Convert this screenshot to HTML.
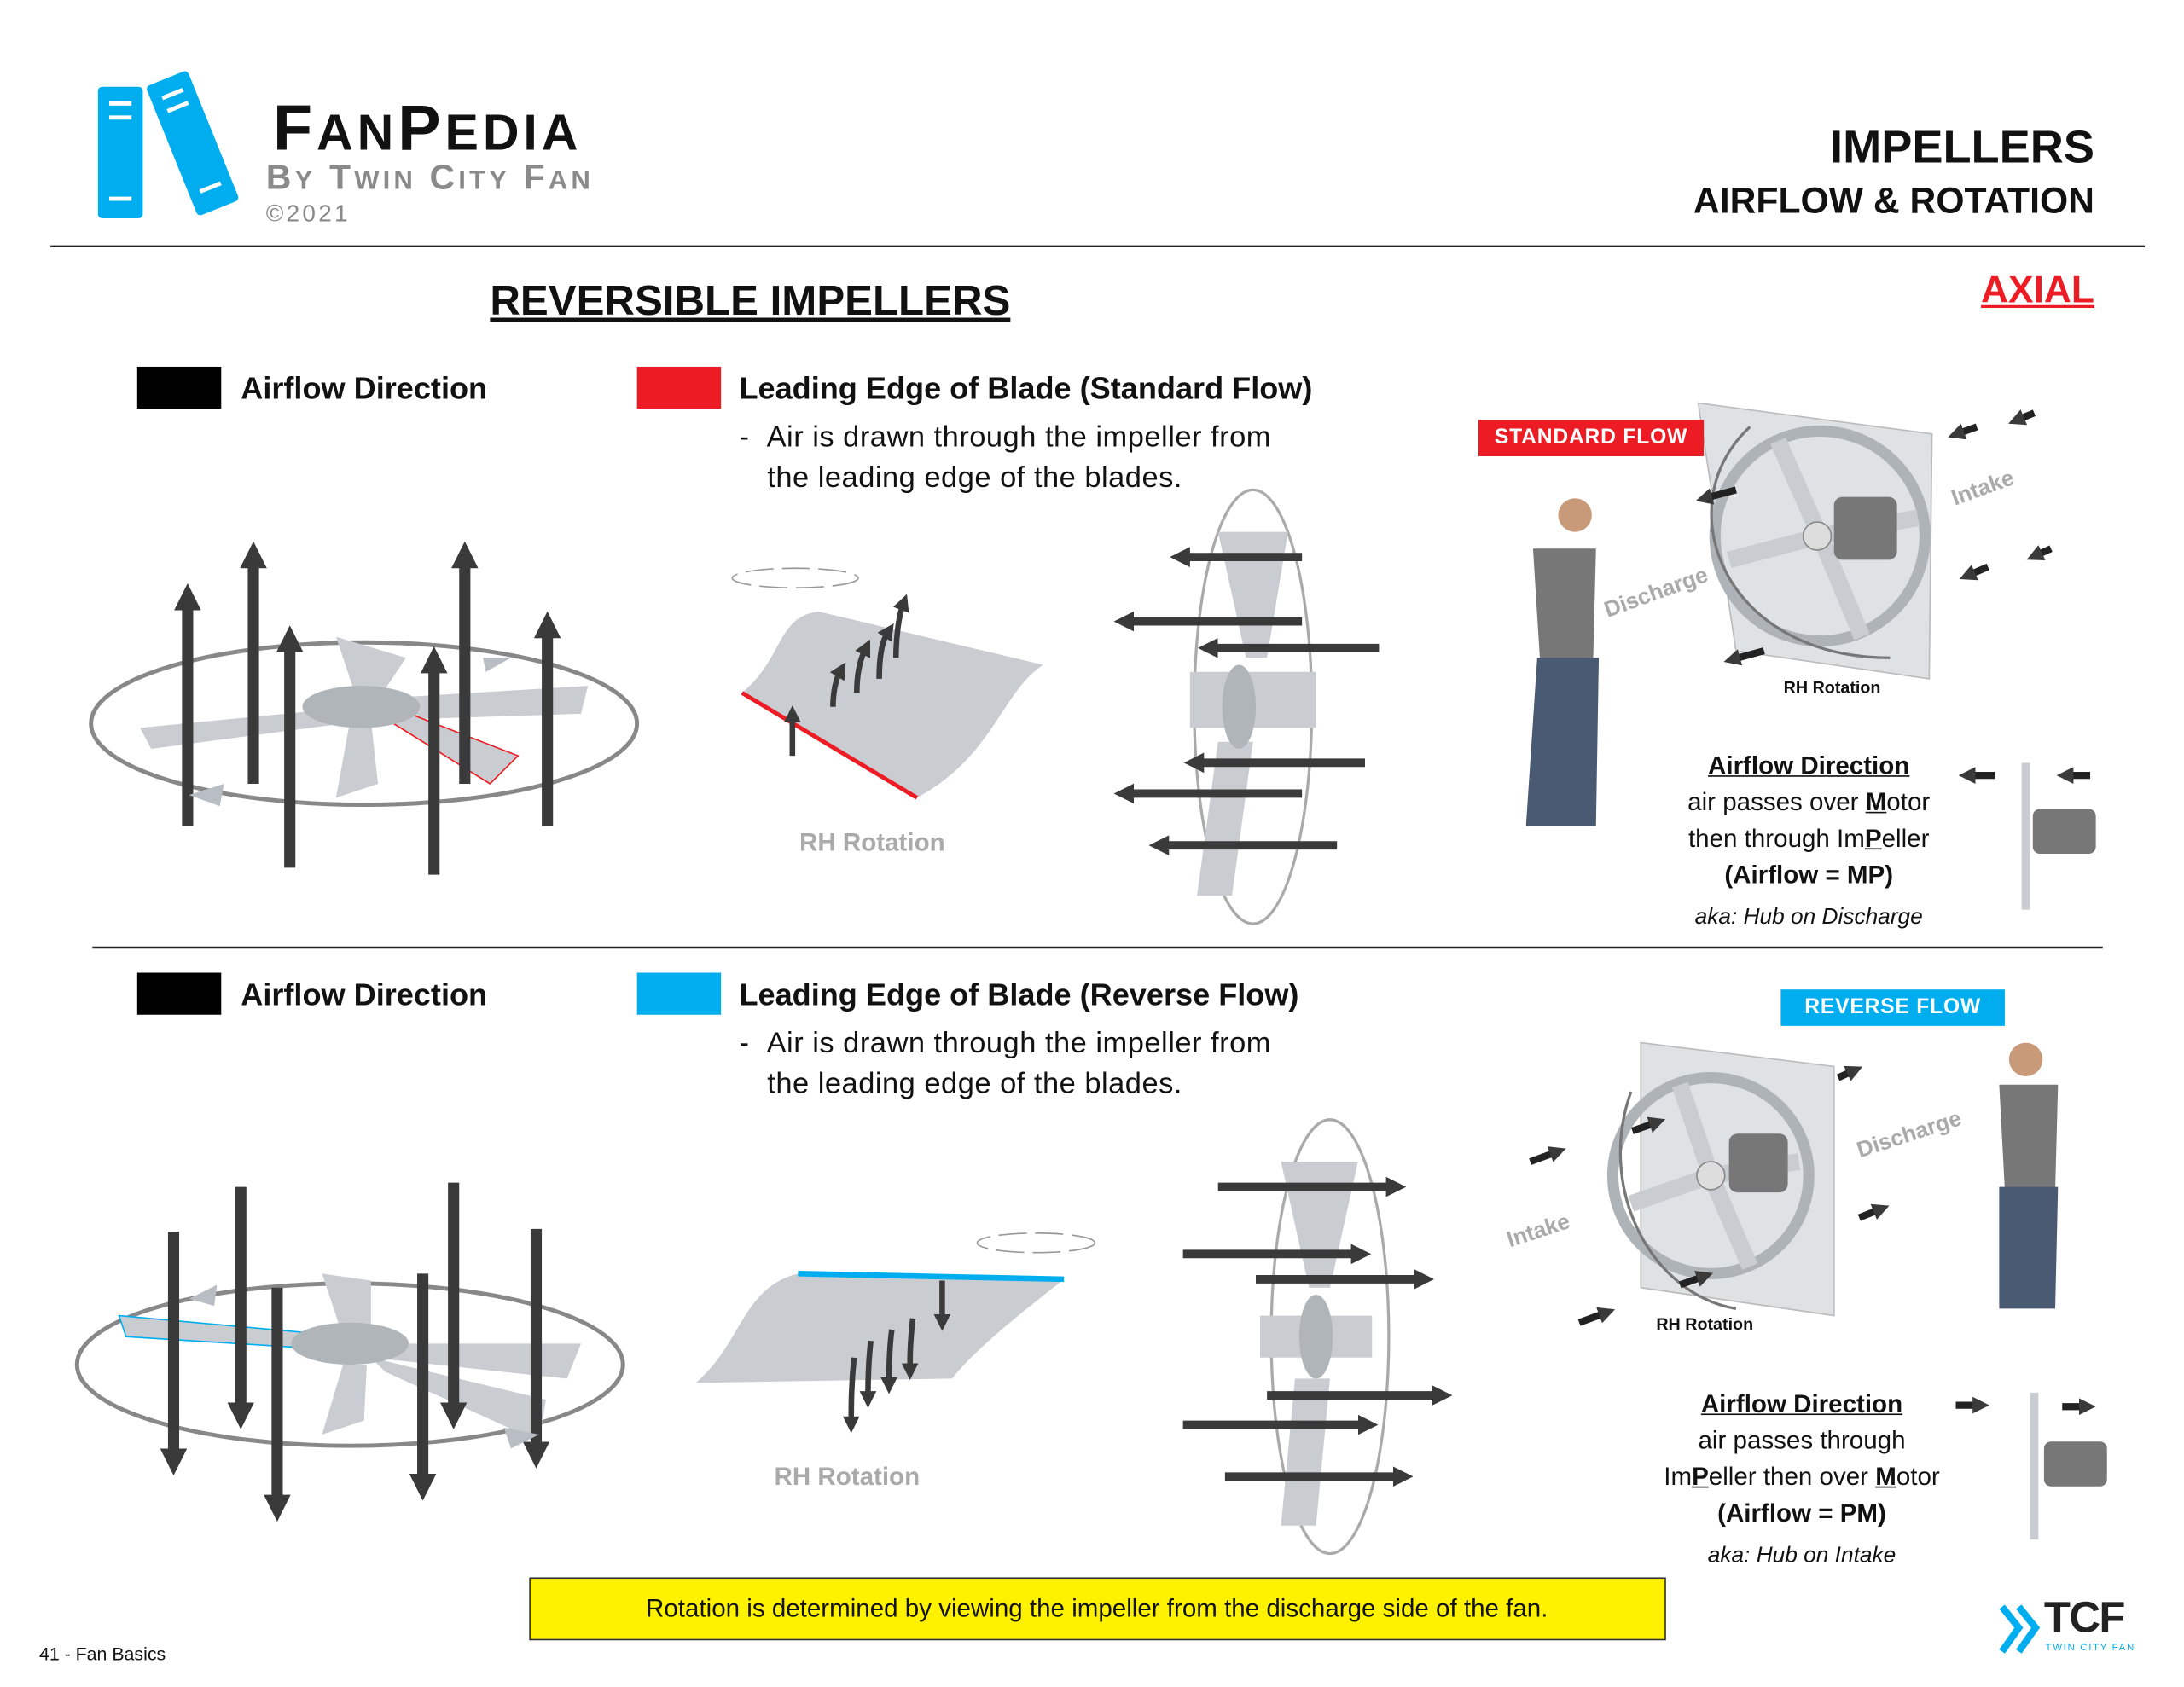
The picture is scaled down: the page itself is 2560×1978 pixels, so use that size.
<!DOCTYPE html>
<html><head><meta charset="utf-8">
<style>
html,body{margin:0;padding:0;background:#fff;}
body{width:2560px;height:1978px;overflow:hidden;position:relative;}
#w{position:absolute;left:0;top:0;width:1560px;height:1205px;transform:scale(1.641026);transform-origin:0 0;font-family:"Liberation Sans",sans-serif;color:#111;}
.t{position:absolute;white-space:nowrap;}
.b{font-weight:bold;}
</style></head><body><div id="w">
<svg width="1560" height="1205" style="position:absolute;left:0;top:0">
<defs>
<marker id="ah" markerWidth="2.4" markerHeight="2.4" refX="1" refY="1.2" orient="auto"><path d="M0,0L2.4,1.2L0,2.4z" fill="#3a3a3a"/></marker>
<marker id="as" markerWidth="3" markerHeight="3" refX="1" refY="1.5" orient="auto"><path d="M0,0L3,1.5L0,3z" fill="#3a3a3a"/></marker>
</defs>
<g transform="translate(70,62)"><rect x="0" y="0" width="32" height="94" rx="3" fill="#00aeef"/>
<line x1="8" y1="12" x2="24" y2="12" stroke="#fff" stroke-width="3"/><line x1="8" y1="22" x2="24" y2="22" stroke="#fff" stroke-width="3"/><line x1="8" y1="80" x2="24" y2="80" stroke="#fff" stroke-width="3"/></g>
<g transform="translate(104,62) rotate(-22)"><rect x="0" y="0" width="32" height="100" rx="3" fill="#00aeef"/>
<line x1="8" y1="12" x2="24" y2="12" stroke="#fff" stroke-width="3"/><line x1="8" y1="22" x2="24" y2="22" stroke="#fff" stroke-width="3"/><line x1="8" y1="84" x2="24" y2="84" stroke="#fff" stroke-width="3"/></g>
<line x1="36" y1="176" x2="1532" y2="176" stroke="#222" stroke-width="1.5"/>
<line x1="66" y1="677" x2="1502" y2="677" stroke="#222" stroke-width="1.5"/>
<rect x="98" y="262" width="60" height="30" fill="#000"/>
<rect x="455" y="262" width="60" height="30" fill="#ed1c24"/>
<rect x="98" y="695" width="60" height="30" fill="#000"/>
<rect x="455" y="695" width="60" height="30" fill="#00aeef"/>
<rect x="378.5" y="1127.5" width="811" height="44" fill="#fff200" stroke="#333"/>
<!-- top-left impeller -->
<ellipse cx="260" cy="517" rx="195" ry="58" fill="none" stroke="#888" stroke-width="3"/>
<path d="M255,500 L420,490 L415,510 L255,515Z" fill="#c9cdd1"/><path d="M255,505 L100,520 L108,535 L260,515Z" fill="#c9cdd1"/>
<path d="M255,500 L240,455 L290,470 L270,500Z" fill="#c9cdd1"/><path d="M250,515 L240,570 L270,560 L265,515Z" fill="#c9cdd1"/>
<path d="M270,510 L350,560 L370,540 L280,505Z" fill="#c9cdd1" stroke="#ed1c24" stroke-width="1"/>
<ellipse cx="258" cy="505" rx="42" ry="15" fill="#b0b5ba"/>
<g stroke="#3a3a3a" stroke-width="8" marker-end="url(#ah)">
<line x1="134" y1="590" x2="134" y2="428"/><line x1="181" y1="560" x2="181" y2="398"/><line x1="207" y1="620" x2="207" y2="458"/><line x1="332" y1="560" x2="332" y2="398"/><line x1="310" y1="625" x2="310" y2="473"/><line x1="391" y1="590" x2="391" y2="448"/></g>
<path d="M345,470 l20,0 l-18,10z" fill="#b8bec4"/><path d="M160,560 l-25,8 l22,8z" fill="#b8bec4"/>
<!-- blade top -->
<path d="M530,495 C560,470 555,440 585,437 L745,475 C715,495 710,540 655,570 Z" fill="#c9cdd1"/>
<path d="M530,495 L655,570" stroke="#ed1c24" stroke-width="3"/>
<ellipse cx="568" cy="413" rx="45" ry="7" fill="none" stroke="#999" stroke-dasharray="20 6"/>
<g stroke="#3a3a3a" stroke-width="4" fill="none" marker-end="url(#as)"><path d="M566,540 L566,512"/><path d="M595,505 C595,495 597,485 600,480"/><path d="M612,495 C612,480 615,470 618,464"/><path d="M628,485 C628,470 630,458 634,452"/><path d="M640,470 C640,455 642,440 645,432"/></g>
<!-- side view top -->
<ellipse cx="895" cy="505" rx="42" ry="155" fill="none" stroke="#aaa" stroke-width="2"/>
<path d="M870,380 L890,470 L905,470 L920,380Z" fill="#c9cdd1"/><path d="M870,530 L855,640 L880,640 L895,530Z" fill="#c9cdd1"/>
<path d="M850,480 L940,480 L940,520 L850,520Z" fill="#c9cdd1"/><ellipse cx="885" cy="505" rx="12" ry="30" fill="#b0b5ba"/>
<g stroke="#3a3a3a" stroke-width="6" marker-end="url(#ah)"><line x1="930" y1="398" x2="844" y2="398"/><line x1="930" y1="444" x2="804" y2="444"/><line x1="985" y1="463" x2="864" y2="463"/><line x1="975" y1="545" x2="854" y2="545"/><line x1="930" y1="567" x2="804" y2="567"/><line x1="955" y1="604" x2="829" y2="604"/></g>
<!-- standard flow fan -->
<path d="M1213,288 L1380,310 L1378,485 L1240,465 Z" fill="#dfe2e5" stroke="#bbb"/>
<circle cx="1300" cy="383" r="75" fill="none" stroke="#aeb3b8" stroke-width="8"/>
<g stroke="#c9cdd1" stroke-width="12"><line x1="1300" y1="383" x2="1270" y2="315"/><line x1="1300" y1="383" x2="1370" y2="370"/><line x1="1300" y1="383" x2="1330" y2="455"/><line x1="1300" y1="383" x2="1235" y2="400"/></g>
<rect x="1310" y="355" width="45" height="45" rx="6" fill="#777"/><circle cx="1298" cy="383" r="10" fill="#ddd" stroke="#888"/>
<path d="M1250,305 C1190,360 1230,470 1350,470" fill="none" stroke="#777" stroke-width="2"/>
<g stroke="#222" stroke-width="5" marker-end="url(#ah)"><line x1="1412" y1="305" x2="1398" y2="310"/><line x1="1453" y1="295" x2="1441" y2="300"/><line x1="1420" y1="405" x2="1406" y2="411"/><line x1="1465" y1="392" x2="1454" y2="397"/><line x1="1240" y1="350" x2="1218" y2="356"/><line x1="1260" y1="465" x2="1238" y2="471"/><line x1="1493" y1="554" x2="1476" y2="554"/><line x1="1425" y1="554" x2="1406" y2="554"/></g>
<circle cx="1125" cy="368" r="12" fill="#c89a7a"/><path d="M1095,392 L1140,392 L1138,470 L1100,472Z" fill="#777"/><path d="M1098,470 L1142,470 L1140,590 L1090,590Z" fill="#4a5a72"/>
<line x1="1447" y1="545" x2="1447" y2="650" stroke="#c9cdd1" stroke-width="6"/><rect x="1452" y="578" width="45" height="32" rx="5" fill="#777"/>
<!-- bottom-left impeller -->
<ellipse cx="250" cy="975" rx="195" ry="58" fill="none" stroke="#888" stroke-width="3"/>
<path d="M250,955 L85,940 L90,955 L250,965Z" fill="#c9cdd1" stroke="#00aeef" stroke-width="1"/><path d="M265,960 L415,960 L405,985 L265,970Z" fill="#c9cdd1"/>
<path d="M245,955 L230,910 L265,915 L265,950Z" fill="#c9cdd1"/><path d="M245,975 L230,1025 L260,1015 L262,975Z" fill="#c9cdd1"/>
<path d="M265,970 L390,1000 L385,1030 L275,980Z" fill="#c9cdd1"/>
<ellipse cx="250" cy="960" rx="42" ry="15" fill="#b0b5ba"/>
<g stroke="#3a3a3a" stroke-width="8" marker-end="url(#ah)"><line x1="124" y1="880" x2="124" y2="1043"/><line x1="172" y1="848" x2="172" y2="1010"/><line x1="198" y1="920" x2="198" y2="1076"/><line x1="324" y1="845" x2="324" y2="1010"/><line x1="302" y1="910" x2="302" y2="1061"/><line x1="383" y1="878" x2="383" y2="1038"/></g>
<path d="M135,928 l20,-10 l-2,15z" fill="#b8bec4"/><path d="M360,1020 l25,5 l-20,10z" fill="#b8bec4"/>
<!-- blade bottom -->
<path d="M497,988 C530,960 530,920 570,910 L760,914 C740,930 700,960 680,985 Z" fill="#c9cdd1"/>
<path d="M570,910 L760,914" stroke="#00aeef" stroke-width="4"/>
<ellipse cx="740" cy="888" rx="42" ry="7" fill="none" stroke="#999" stroke-dasharray="20 6"/>
<g stroke="#3a3a3a" stroke-width="4" fill="none" marker-end="url(#as)"><path d="M673,915 L673,943"/><path d="M652,942 C650,960 650,970 650,978"/><path d="M637,950 C635,965 635,980 635,988"/><path d="M622,958 C620,975 620,990 620,998"/><path d="M610,970 C608,990 608,1005 608,1016"/></g>
<!-- side bottom -->
<ellipse cx="950" cy="955" rx="42" ry="155" fill="none" stroke="#aaa" stroke-width="2"/>
<path d="M915,830 L935,920 L950,920 L970,830Z" fill="#c9cdd1"/><path d="M925,985 L915,1090 L940,1090 L950,985Z" fill="#c9cdd1"/>
<path d="M900,940 L980,940 L980,970 L900,970Z" fill="#c9cdd1"/><ellipse cx="940" cy="955" rx="12" ry="30" fill="#b0b5ba"/>
<g stroke="#3a3a3a" stroke-width="6" marker-end="url(#ah)"><line x1="870" y1="848" x2="996" y2="848"/><line x1="845" y1="896" x2="971" y2="896"/><line x1="897" y1="914" x2="1016" y2="914"/><line x1="905" y1="997" x2="1029" y2="997"/><line x1="845" y1="1018" x2="976" y2="1018"/><line x1="875" y1="1055" x2="1001" y2="1055"/></g>
<!-- reverse fan -->
<path d="M1172,745 L1310,762 L1310,940 L1172,920 Z" fill="#dfe2e5" stroke="#bbb"/>
<circle cx="1222" cy="840" r="70" fill="none" stroke="#aeb3b8" stroke-width="8"/>
<g stroke="#c9cdd1" stroke-width="12"><line x1="1222" y1="840" x2="1200" y2="775"/><line x1="1222" y1="840" x2="1285" y2="830"/><line x1="1222" y1="840" x2="1250" y2="905"/><line x1="1222" y1="840" x2="1165" y2="860"/></g>
<rect x="1235" y="810" width="42" height="42" rx="6" fill="#777"/><circle cx="1222" cy="840" r="10" fill="#ddd" stroke="#888"/>
<path d="M1165,780 C1140,850 1180,925 1240,935" fill="none" stroke="#777" stroke-width="2"/>
<g stroke="#222" stroke-width="5" marker-end="url(#ah)"><line x1="1093" y1="830" x2="1112" y2="823"/><line x1="1128" y1="945" x2="1147" y2="938"/><line x1="1166" y1="808" x2="1183" y2="802"/><line x1="1200" y1="918" x2="1217" y2="912"/><line x1="1313" y1="770" x2="1324" y2="765"/><line x1="1328" y1="870" x2="1343" y2="864"/><line x1="1397" y1="1004" x2="1414" y2="1004"/><line x1="1473" y1="1005" x2="1490" y2="1005"/></g>
<circle cx="1447" cy="757" r="12" fill="#c89a7a"/><path d="M1428,775 L1470,775 L1468,850 L1432,850Z" fill="#777"/><path d="M1428,848 L1470,848 L1468,935 L1428,935Z" fill="#4a5a72"/>
<line x1="1453" y1="995" x2="1453" y2="1100" stroke="#c9cdd1" stroke-width="6"/><rect x="1460" y="1030" width="45" height="32" rx="5" fill="#777"/>
<path d="M1430,1148 L1442,1163 L1430,1180 M1442,1148 L1454,1163 L1442,1180" fill="none" stroke="#00aeef" stroke-width="5"/>
</svg>
<div class="t b" style="left:195px;top:64px;font-size:46px;letter-spacing:3px;">F<span style="font-size:36px">AN</span>P<span style="font-size:36px">EDIA</span></div>
<div class="t b" style="left:190px;top:113px;font-size:25px;color:#8a8a8a;letter-spacing:2.5px;">B<span style="font-size:19px">Y</span> T<span style="font-size:19px">WIN</span> C<span style="font-size:19px">ITY</span> F<span style="font-size:19px">AN</span></div>
<div class="t" style="left:190px;top:143px;font-size:17px;color:#8a8a8a;letter-spacing:2px;">©2021</div>
<div class="t b" style="right:64px;top:86px;font-size:33px;">IMPELLERS</div>
<div class="t b" style="right:64px;top:128px;font-size:26px;">AIRFLOW &amp; ROTATION</div>
<div class="t b" style="left:350px;top:199px;font-size:30px;text-decoration:underline;">REVERSIBLE IMPELLERS</div>
<div class="t b" style="right:64px;top:192px;font-size:27px;color:#ed1c24;text-decoration:underline;">AXIAL</div>
<div class="t b" style="left:172px;top:265px;font-size:22px;">Airflow Direction</div>
<div class="t b" style="left:528px;top:265px;font-size:22px;">Leading Edge of Blade (Standard Flow)</div>
<div class="t" style="left:528px;top:301px;font-size:21px;letter-spacing:0.3px;">-&nbsp;&nbsp;Air is drawn through the impeller from</div>
<div class="t" style="left:548px;top:330px;font-size:21px;letter-spacing:0.3px;">the leading edge of the blades.</div>
<div class="t b" style="left:172px;top:698px;font-size:22px;">Airflow Direction</div>
<div class="t b" style="left:528px;top:698px;font-size:22px;">Leading Edge of Blade (Reverse Flow)</div>
<div class="t" style="left:528px;top:734px;font-size:21px;letter-spacing:0.3px;">-&nbsp;&nbsp;Air is drawn through the impeller from</div>
<div class="t" style="left:548px;top:763px;font-size:21px;letter-spacing:0.3px;">the leading edge of the blades.</div>
<div class="t b" style="left:1056px;top:300px;width:161px;height:26px;background:#ed1c24;color:#fff;font-size:15px;line-height:26px;text-align:center;letter-spacing:0.5px;">STANDARD FLOW</div>
<div class="t b" style="left:1272px;top:707px;width:160px;height:26px;background:#00aeef;color:#fff;font-size:15px;line-height:26px;text-align:center;letter-spacing:0.5px;">REVERSE FLOW</div>
<div class="t b" style="left:571px;top:592px;font-size:18px;color:#aaa;">RH Rotation</div>
<div class="t b" style="left:553px;top:1045px;font-size:18px;color:#aaa;">RH Rotation</div>
<div class="t b" style="left:1274px;top:484px;font-size:12px;">RH Rotation</div>
<div class="t b" style="left:1183px;top:939px;font-size:12px;">RH Rotation</div>
<div class="t b" style="left:1150px;top:428px;font-size:16px;color:#aaa;transform:rotate(-20deg);transform-origin:0 100%;">Discharge</div>
<div class="t b" style="left:1398px;top:348px;font-size:16px;color:#aaa;transform:rotate(-20deg);transform-origin:0 100%;">Intake</div>
<div class="t b" style="left:1330px;top:814px;font-size:16px;color:#aaa;transform:rotate(-18deg);transform-origin:0 100%;">Discharge</div>
<div class="t b" style="left:1080px;top:878px;font-size:16px;color:#aaa;transform:rotate(-18deg);transform-origin:0 100%;">Intake</div>
<div class="t" style="left:1172px;top:534px;width:240px;text-align:center;font-size:18px;line-height:26px;white-space:normal;">
<b><u>Airflow Direction</u></b><br>air passes over <b><u>M</u></b>otor<br>then through Im<b><u>P</u></b>eller<br><b>(Airflow = MP)</b><br><i style="font-size:16px;line-height:36px">aka: Hub on Discharge</i></div>
<div class="t" style="left:1167px;top:990px;width:240px;text-align:center;font-size:18px;line-height:26px;white-space:normal;">
<b><u>Airflow Direction</u></b><br>air passes through<br>Im<b><u>P</u></b>eller then over <b><u>M</u></b>otor<br><b>(Airflow = PM)</b><br><i style="font-size:16px;line-height:36px">aka: Hub on Intake</i></div>
<div class="t" style="left:378px;top:1127px;width:811px;height:44px;line-height:44px;text-align:center;font-size:18px;">Rotation is determined by viewing the impeller from the discharge side of the fan.</div>
<div class="t" style="left:28px;top:1174px;font-size:13px;">41 - Fan Basics</div>
<div class="t b" style="left:1460px;top:1138px;font-size:31px;color:#222;letter-spacing:-1px;">TCF</div>
<div class="t" style="left:1461px;top:1174px;font-size:7px;color:#00aeef;letter-spacing:1px;">TWIN CITY FAN</div>
</div></body></html>
